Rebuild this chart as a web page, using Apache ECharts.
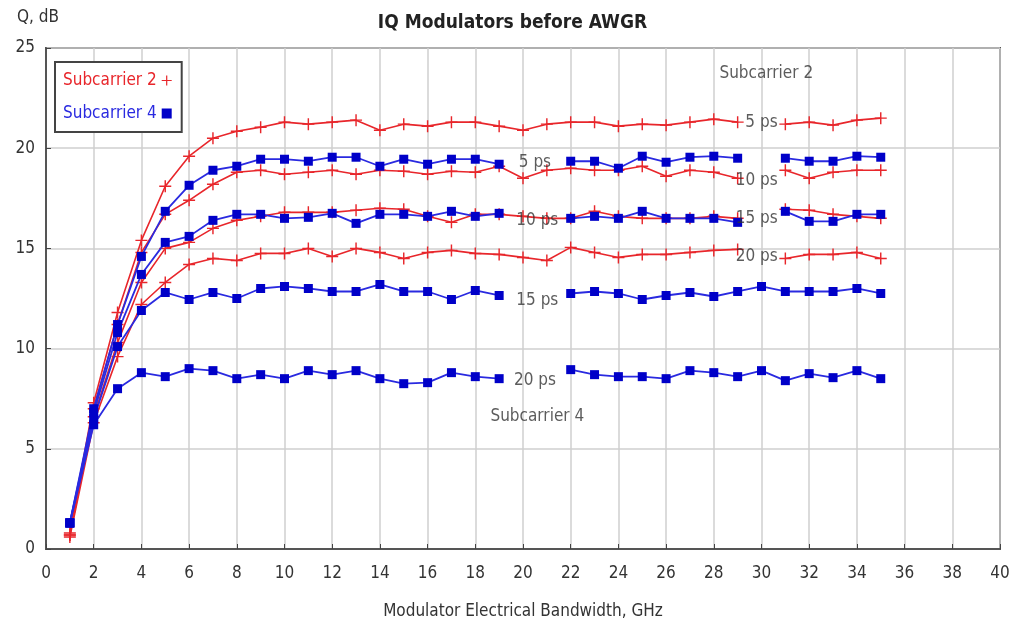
<!doctype html>
<html lang="en">
<head>
<meta charset="UTF-8">
<title>IQ Modulators before AWGR</title>
<script src="https://cdn.jsdelivr.net/npm/echarts@6/dist/echarts.min.js"></script>
<style>
  html, body { margin: 0; padding: 0; background: #fff; }
  #main { width: 1025px; height: 625px; }
</style>
</head>
<body>
<div id="main"></div>
<script>
// bandwidth, GHz
var bw = [1, 2, 3, 4, 5, 6, 7, 8, 9, 10, 11, 12, 13, 14, 15, 16, 17, 18,
          19, 20, 21, 22, 23, 24, 25, 26, 27, 28, 29, 30, 31, 32, 33, 34, 35];

// Subcarrier 2 (red)
var sc2_5ps  = [0.8, 7.3, 11.8, 15.4, 18.1, 19.6, 20.5, 20.85, 21.05, 21.3, 21.2, 21.3, 21.4, 20.9, 21.2, 21.1, 21.3, 21.3,
                21.1, 20.9, 21.2, 21.3, 21.3, 21.1, 21.2, 21.15, 21.3, 21.45, 21.3, null, 21.2, 21.3, 21.15, 21.4, 21.5];
var sc2_10ps = [0.7, 7.0, 11.2, 14.8, 16.7, 17.4, 18.2, 18.8, 18.9, 18.7, 18.8, 18.9, 18.7, 18.9, 18.85, 18.7, 18.85, 18.8,
                19.1, 18.5, 18.9, 19.0, 18.9, 18.9, 19.1, 18.6, 18.9, 18.8, 18.5, null, 18.9, 18.5, 18.8, 18.9, 18.9];
var sc2_15ps = [0.7, 6.6, 10.3, 13.3, 15.0, 15.3, 16.0, 16.4, 16.6, 16.8, 16.8, 16.8, 16.9, 17.0, 16.95, 16.6, 16.3, 16.7,
                16.7, 16.6, 16.5, 16.5, 16.85, 16.6, 16.5, 16.5, 16.5, 16.6, 16.5, null, 16.95, 16.9, 16.7, 16.6, 16.5];
var sc2_20ps = [0.6, 6.3, 9.6, 12.2, 13.3, 14.2, 14.5, 14.4, 14.75, 14.75, 15.0, 14.6, 15.0, 14.8, 14.5, 14.8, 14.9, 14.75,
                14.7, 14.55, 14.4, 15.05, 14.8, 14.55, 14.7, 14.7, 14.8, 14.9, 14.95, null, 14.5, 14.7, 14.7, 14.8, 14.5];

// Subcarrier 4 (blue)
var sc4_5ps  = [1.3, 7.0, 11.2, 14.6, 16.85, 18.15, 18.9, 19.1, 19.45, 19.45, 19.35, 19.55, 19.55, 19.1, 19.45, 19.2, 19.45, 19.45,
                19.2, null, null, 19.35, 19.35, 19.0, 19.6, 19.3, 19.55, 19.6, 19.5, null, 19.5, 19.35, 19.35, 19.6, 19.55];
var sc4_10ps = [1.3, 6.8, 10.8, 13.7, 15.3, 15.6, 16.4, 16.7, 16.7, 16.5, 16.55, 16.75, 16.25, 16.7, 16.7, 16.6, 16.85, 16.6,
                16.75, null, null, 16.5, 16.6, 16.5, 16.85, 16.5, 16.5, 16.5, 16.3, null, 16.85, 16.35, 16.35, 16.7, 16.7];
var sc4_15ps = [1.3, 6.5, 10.1, 11.9, 12.8, 12.45, 12.8, 12.5, 13.0, 13.1, 13.0, 12.85, 12.85, 13.2, 12.85, 12.85, 12.45, 12.9,
                12.65, null, null, 12.75, 12.85, 12.75, 12.45, 12.65, 12.8, 12.6, 12.85, 13.1, 12.85, 12.85, 12.85, 13.0, 12.75];
var sc4_20ps = [1.3, 6.2, 8.0, 8.8, 8.6, 9.0, 8.9, 8.5, 8.7, 8.5, 8.9, 8.7, 8.9, 8.5, 8.25, 8.3, 8.8, 8.6,
                8.5, null, null, 8.95, 8.7, 8.6, 8.6, 8.5, 8.9, 8.8, 8.6, 8.9, 8.4, 8.75, 8.55, 8.9, 8.5];

// text notes on the plot: [x, y, text]
var notes = [
    [20.5, 19.3, '5 ps'], [20.6, 16.4, '10 ps'], [20.6, 12.4, '15 ps'], [20.5, 8.4, '20 ps'],
    [20.6, 6.6, 'Subcarrier 4'],
    [30.0, 21.3, '5 ps'], [29.8, 18.4, '10 ps'], [29.8, 16.5, '15 ps'], [29.8, 14.6, '20 ps'],
    [30.2, 23.7, 'Subcarrier 2']
];

var RED = '#e8262b';
var BLUE = '#0000c8';
var FONT = '"DejaVu Sans Condensed", "Liberation Sans Narrow", Arial, sans-serif';
var PLUS = 'path://M4.4,0h1.2v10h-1.2z M0,4.4h10v1.2h-10z';

function pairs(vals) {
    var out = [];
    for (var i = 0; i < bw.length; i++) {
        out.push([bw[i], vals[i]]);
    }
    return out;
}

function redLine(vals) {
    return {
        name: 'Subcarrier 2', type: 'line', data: pairs(vals),
        symbol: PLUS, symbolSize: 12, showAllSymbol: true,
        lineStyle: { color: RED, width: 1.6 },
        itemStyle: { color: RED },
        connectNulls: false, z: 2
    };
}

function blueLine(vals) {
    return {
        name: 'Subcarrier 4', type: 'line', data: pairs(vals),
        symbol: 'rect', symbolSize: 9, showAllSymbol: true,
        lineStyle: { color: '#2a2ae0', width: 1.8 },
        itemStyle: { color: BLUE },
        connectNulls: false, z: 3
    };
}

var chart = echarts.init(document.getElementById('main'));

var option = {
    backgroundColor: '#fff',
    animation: false,
    title: {
        text: 'IQ Modulators before AWGR',
        left: 'center', top: 9,
        textStyle: { fontFamily: FONT, fontSize: 19, fontWeight: 'bold', color: '#222' }
    },
    graphic: [{
        type: 'text', left: 17, top: 9,
        style: { text: 'Q, dB', font: '17px ' + FONT, fill: '#333' }
    }],
    legend: {
        orient: 'vertical', left: 55, top: 62,
        align: 'right',
        padding: [10, 10, 10, 8],
        itemGap: 16,
        itemWidth: 10, itemHeight: 10,
        borderColor: '#444', borderWidth: 2,
        backgroundColor: '#fff',
        data: [
            { name: 'Subcarrier 2', icon: PLUS, itemStyle: { color: RED }, textStyle: { color: RED } },
            { name: 'Subcarrier 4', icon: 'rect', itemStyle: { color: BLUE }, textStyle: { color: '#2a2ae0' } }
        ],
        textStyle: { fontFamily: FONT, fontSize: 17 }
    },
    grid: {
        left: 46, right: 25, top: 48, bottom: 72,
        show: true, borderColor: '#555', borderWidth: 2
    },
    xAxis: {
        type: 'value', min: 0, max: 40, interval: 2,
        name: 'Modulator Electrical Bandwidth, GHz',
        nameLocation: 'middle', nameGap: 54,
        nameTextStyle: { fontFamily: FONT, fontSize: 17, color: '#333' },
        axisLine: { lineStyle: { color: '#555', width: 2 } },
        axisTick: { inside: true, length: 5, lineStyle: { color: '#444' } },
        axisLabel: { fontFamily: FONT, fontSize: 17, color: '#333', margin: 16 },
        splitLine: { lineStyle: { color: '#cfcfcf', width: 1.5 } }
    },
    yAxis: {
        type: 'value', min: 0, max: 25, interval: 5,
        axisLine: { show: true, lineStyle: { color: '#555', width: 2 } },
        axisTick: { show: true, inside: true, length: 5, lineStyle: { color: '#444' } },
        axisLabel: { fontFamily: FONT, fontSize: 17, color: '#333', margin: 11 },
        splitLine: { lineStyle: { color: '#cfcfcf', width: 1.5 } }
    },
    series: [
        redLine(sc2_5ps), redLine(sc2_10ps), redLine(sc2_15ps), redLine(sc2_20ps),
        blueLine(sc4_5ps), blueLine(sc4_10ps), blueLine(sc4_15ps), blueLine(sc4_20ps),
        {
            type: 'scatter', data: notes, symbolSize: 0, silent: true, z: 5,
            label: {
                show: true, position: 'inside',
                formatter: function (p) { return p.value[2]; },
                fontFamily: FONT, fontSize: 17, color: '#333'
            }
        }
    ]
};

chart.setOption(option);
</script>
</body>
</html>
